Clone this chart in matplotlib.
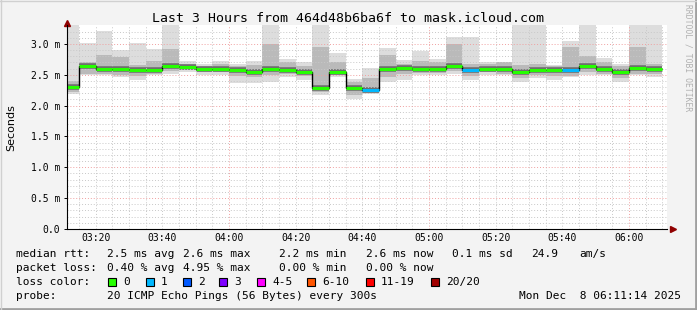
import matplotlib
matplotlib.use('Agg')
import numpy as np
import matplotlib.pyplot as plt
from matplotlib.patches import Rectangle

W, H = 697, 310

# time axis in minutes after 03:00
view_start = 11.4
view_end = 191.4
first_edge = 15
step = 5

# per 5 minute step: median rtt, max, min, upper/lower inner band (ms) and lost pings
median = [2.30, 2.64, 2.59, 2.59, 2.57, 2.57, 2.65, 2.63, 2.59, 2.60, 2.58, 2.54,
          2.60, 2.57, 2.54, 2.28, 2.54, 2.28, 2.25, 2.59, 2.61, 2.60, 2.60, 2.64,
          2.58, 2.60, 2.60, 2.54, 2.57, 2.57, 2.57, 2.64, 2.60, 2.54, 2.61, 2.60]
rtt_max = [3.30, 3.01, 3.21, 2.90, 3.01, 2.91, 3.30, 2.73, 2.68, 2.72, 2.68, 2.72,
           3.30, 2.75, 2.70, 3.30, 2.85, 2.43, 2.61, 2.93, 2.74, 2.88, 2.75, 3.11,
           3.11, 2.70, 2.71, 3.30, 3.30, 2.66, 3.05, 3.30, 2.77, 2.67, 3.30, 3.30]
rtt_min = [2.19, 2.49, 2.49, 2.46, 2.41, 2.49, 2.52, 2.54, 2.50, 2.49, 2.37, 2.36,
           2.38, 2.46, 2.41, 2.18, 2.46, 2.10, 2.19, 2.39, 2.41, 2.49, 2.49, 2.52,
           2.41, 2.49, 2.49, 2.38, 2.45, 2.41, 2.46, 2.49, 2.49, 2.39, 2.49, 2.46]
band_hi = [2.40, 2.70, 2.82, 2.79, 2.66, 2.72, 2.92, 2.68, 2.65, 2.68, 2.64, 2.66,
           3.00, 2.70, 2.64, 2.95, 2.70, 2.38, 2.45, 2.82, 2.68, 2.72, 2.70, 3.00,
           2.68, 2.68, 2.70, 2.66, 2.68, 2.64, 2.95, 2.80, 2.70, 2.64, 2.95, 2.68]
band_lo = [2.22, 2.52, 2.52, 2.50, 2.48, 2.52, 2.56, 2.58, 2.54, 2.55, 2.48, 2.46,
           2.50, 2.52, 2.48, 2.22, 2.50, 2.18, 2.20, 2.47, 2.52, 2.53, 2.53, 2.56,
           2.48, 2.54, 2.52, 2.45, 2.50, 2.48, 2.48, 2.55, 2.52, 2.44, 2.52, 2.52]
loss = [0, 0, 0, 0, 0, 0, 0, 0, 0, 0, 0, 0, 0, 0, 0, 0, 0, 0, 1, 0, 0, 0, 0, 0,
        1, 0, 0, 0, 0, 0, 1, 0, 0, 0, 0, 0]

tick_labels = ['03:20', '03:40', '04:00', '04:20', '04:40', '05:00', '05:20', '05:40', '06:00']
y_labels = ['0.0', '0.5 m', '1.0 m', '1.5 m', '2.0 m', '2.5 m', '3.0 m']

loss_names = ['0', '1', '2', '3', '4-5', '6-10', '11-19', '20/20']
loss_colors = ['#26ff00', '#00b8ff', '#0059ff', '#7e00ff', '#ff00ff', '#ff5500', '#ff0000', '#a10000']

MONO = 'DejaVu Sans Mono'
BG = '#f3f3f3'

def fx(x):
    return x / W

def fy(y):
    return 1 - y / H

fig = plt.figure(figsize=(W / 100, H / 100), dpi=100, facecolor=BG)
ax = fig.add_axes([fx(67), fy(229), 600 / W, 203.6 / H])
ax.set_facecolor('white')

n = len(median)
edges = np.array([view_start] + [first_edge + step * i for i in range(n)])
left = edges[:-1]
width = np.diff(edges)
med = np.array(median)

# smoke
ax.bar(left, np.array(rtt_max) - np.array(rtt_min), bottom=rtt_min, width=width,
       align='edge', color='#dddddd', lw=0, zorder=1)
ax.bar(left, np.array(band_hi) - np.array(band_lo), bottom=band_lo, width=width,
       align='edge', color='#bababa', lw=0, zorder=1.2)
ax.hlines(med, left, edges[1:], colors='#6e6e6e', lw=4.0, zorder=1.4)

ax.set_xlim(view_start, view_end)
ax.set_ylim(0, 3.3)

# grid
for t in np.arange(first_edge, view_end, step):
    hour = (t % 60 == 0)
    ax.axvline(t, color='#f0a0a0' if hour else '#c8c8c8', ls=(0, (1, 2)), lw=0.7, zorder=2)
for v in np.arange(0.1, 3.3, 0.1):
    major = abs(v * 2 - round(v * 2)) < 1e-6
    ax.axhline(v, color='#f0a0a0' if major else '#c8c8c8', ls=(0, (1, 2)), lw=0.7, zorder=2)

# median line coloured by loss
ax.stairs(med, edges, baseline=None, color='black', lw=1.0, zorder=3)
ax.hlines(med, left, edges[1:], colors=[loss_colors[l] for l in loss], lw=2.2, zorder=4)

ax.set_xticks(range(20, 181, 20))
ax.set_xticklabels(tick_labels, fontfamily=MONO, fontsize=7)
ax.set_yticks(np.arange(0, 3.01, 0.5))
ax.set_yticklabels(y_labels, fontfamily=MONO, fontsize=7)
ax.tick_params(axis='x', length=0, pad=3)
ax.tick_params(axis='y', length=2, width=0.7, pad=3)
for s in ['top', 'right']:
    ax.spines[s].set_visible(False)
for s in ['left', 'bottom']:
    ax.spines[s].set_linewidth(0.8)
    ax.spines[s].set_zorder(5)
ax.plot([0], [1.01], marker='^', color='#900000', ms=4.5, transform=ax.transAxes, clip_on=False)
ax.plot([1.01], [0], marker='>', color='#900000', ms=4.5, transform=ax.transAxes, clip_on=False)

ax.set_ylabel('Seconds', fontsize=8)
ax.yaxis.set_label_coords((16 - 67) / 600, 0.5)

fig.text(0.5, fy(19), 'Last 3 Hours from 464d48b6ba6f to mask.icloud.com',
         ha='center', va='center', fontfamily=MONO, fontsize=9.5)
fig.text(fx(688), fy(4), 'RRDTOOL / TOBI OETIKER', rotation=270, ha='center', va='top',
         fontfamily=MONO, fontsize=5.8, color='#b0b0b0')

def line(x, y, s):
    fig.text(fx(x), fy(y), s, ha='left', va='center', fontfamily=MONO, fontsize=8.0)

line(16, 254, 'median rtt:')
line(107, 254, '2.5 ms avg')
line(183, 254, '2.6 ms max')
line(279, 254, '2.2 ms min')
line(366, 254, '2.6 ms now')
line(452, 254, '0.1 ms sd')
line(531, 254, '24.9')
line(579, 254, 'am/s')

line(16, 268, 'packet loss:')
line(107, 268, '0.40 % avg')
line(183, 268, '4.95 % max')
line(279, 268, '0.00 % min')
line(366, 268, '0.00 % now')

line(16, 282, 'loss color:')
box_x = [108, 146, 183, 219, 257, 307, 366, 431]
for bx, name, c in zip(box_x, loss_names, loss_colors):
    fig.patches.append(Rectangle((fx(bx), fy(286)), 8 / W, 8 / H, transform=fig.transFigure,
                                 facecolor=c, edgecolor='black', lw=0.8))
    line(bx + 15, 282, name)

line(16, 296, 'probe:')
line(107, 296, '20 ICMP Echo Pings (56 Bytes) every 300s')
fig.text(fx(681), fy(296), 'Mon Dec  8 06:11:14 2025', ha='right', va='center',
         fontfamily=MONO, fontsize=8.0)

# frame
fig.add_artist(plt.Line2D([0, 1], [fy(309), fy(309)], transform=fig.transFigure, color='#a0a0a0', lw=2))
fig.add_artist(plt.Line2D([fx(696), fx(696)], [0, 1], transform=fig.transFigure, color='#a0a0a0', lw=2))
fig.add_artist(plt.Line2D([0, 1], [fy(0.5), fy(0.5)], transform=fig.transFigure, color='#d0d0d0', lw=1))
fig.add_artist(plt.Line2D([fx(0.5), fx(0.5)], [0, 1], transform=fig.transFigure, color='#d0d0d0', lw=1))

fig.savefig('out.png', dpi=100, facecolor=BG)
